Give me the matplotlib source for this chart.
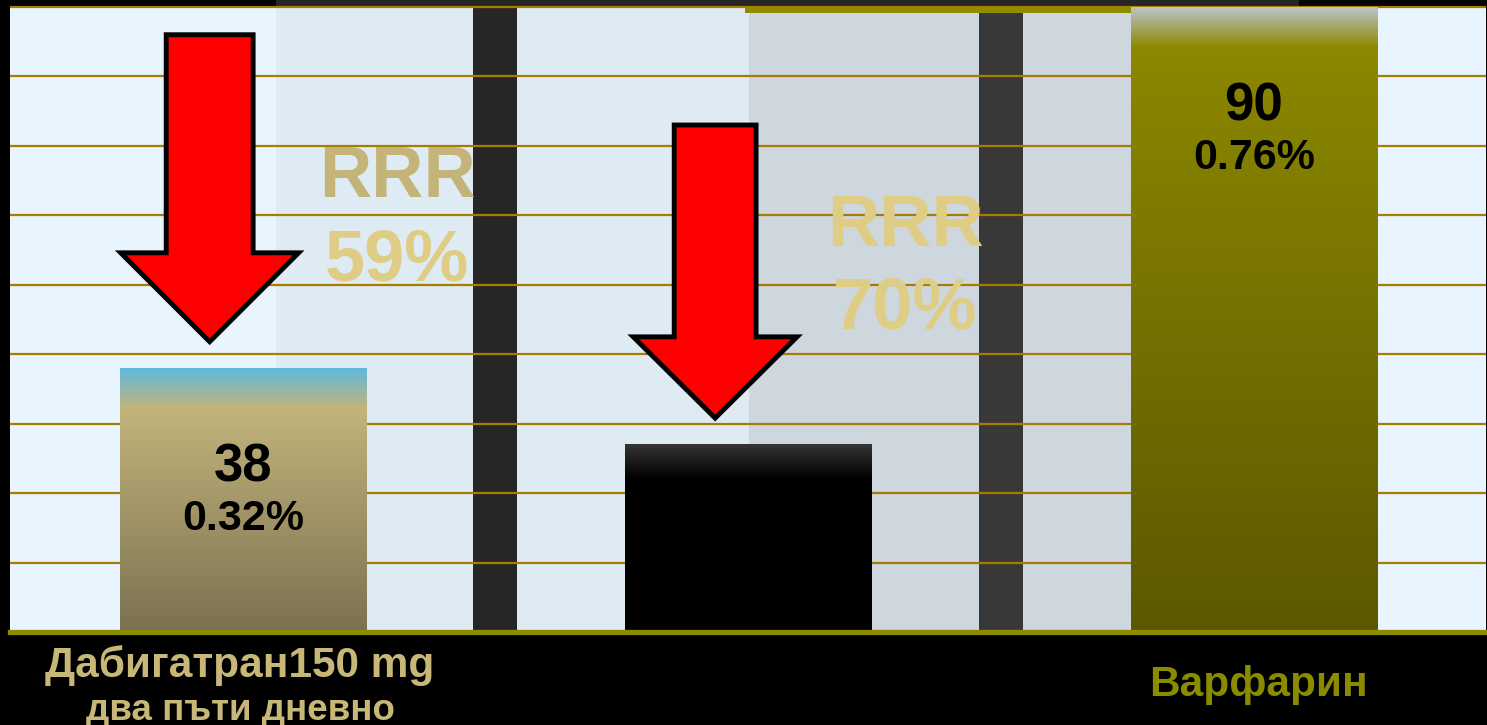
import numpy as np
import matplotlib
matplotlib.use("Agg")
import matplotlib.pyplot as plt
from matplotlib.colors import LinearSegmentedColormap
from matplotlib.patches import FancyArrow

plt.rcParams['font.family'] = ['Liberation Sans', 'DejaVu Sans']

# data
positions = [0, 1, 2]
events = [38, 27, 90]
rates = ['0.32%', '', '0.76%']
rrr_labels = ['RRR\n59%', 'RRR\n70%']
grid_levels = list(range(10, 91, 10))

# arrow / annotation placement (data units)
arrow_x = [-0.066, 0.934]
arrow_top = [86.0, 73.0]
arrow_tip = [41.8, 30.8]
arrow_shaft = [0.172, 0.162]
arrow_head_w = [0.352, 0.324]
arrow_head_len = [12.8, 11.7]
rrr_x = [0.305, 1.31]
rrr_y = [[65.4, 53.4], [58.3, 46.4]]
rrr_colors = [['#c4b47a', '#e0cd85'], ['#e0cd85', '#e0cd85']]

bar_width = 0.487
grads = [
    [(0.0, '#5fb9dc'), (0.15, '#c2b47c'), (1.0, '#7b7150')],
    [(0.0, '#353535'), (0.18, '#000000'), (1.0, '#000000')],
    [(0.0, '#bcc4c6'), (0.065, '#8c8800'), (1.0, '#5c5800')],
]

fig = plt.figure(figsize=(14.87, 7.25), dpi=100, facecolor='black')
ax = fig.add_axes([10 / 1487, 93 / 725, 1476 / 1487, 632 / 725])
ax.set_facecolor('black')

xmin, xmax = -0.461, 2.459

# back walls
ax.fill_between([xmin, xmax], 0, 90, color='#e8f5fe', lw=0, zorder=0)
ax.fill_between([0.065, 1.0], 0, 90, color='#deebf3', lw=0, zorder=0)
ax.fill_between([1.0, 2.0], 0, 90, color='#ced6de', lw=0, zorder=0)
ax.fill_between([0.455, 0.542], 0, 90, color='#262626', lw=0, zorder=0.5)
ax.fill_between([1.456, 1.543], 0, 90, color='#383838', lw=0, zorder=0.5)
ax.fill_between([0.065, 2.09], 90, 91, color='#252525', lw=0, zorder=0)
ax.fill_between([0.994, 1.757], 89.1, 90, color='#908c00', lw=0, zorder=1.5)

# grid lines
ax.hlines(grid_levels, xmin, xmax, color='#a87c00', lw=1.6, zorder=1)

# bars with gradient fill
bars = ax.bar(positions, events, width=bar_width, color='none', lw=0, zorder=3)
for rect, stops in zip(bars, grads):
    cmap = LinearSegmentedColormap.from_list('g', stops)
    x0, w, h = rect.get_x(), rect.get_width(), rect.get_height()
    grad = np.linspace(0, 1, 256).reshape(-1, 1)
    im = ax.imshow(grad, cmap=cmap, extent=(x0, x0 + w, 0, h),
                   aspect='auto', zorder=3, interpolation='bilinear')
    im.set_clip_path(rect)

# value labels
for x, v, r in zip(positions, events, rates):
    if not r:
        continue
    ax.text(x, v - 14.3, str(v), ha='center', va='center', fontsize=38,
            fontweight='bold', color='black', zorder=5)
    ax.text(x, v - 21.8, r, ha='center', va='center', fontsize=31,
            fontweight='bold', color='black', zorder=5)

# RRR labels
for x, ys, cols, lab in zip(rrr_x, rrr_y, rrr_colors, rrr_labels):
    top, bottom = lab.split('\n')
    ax.text(x, ys[0], top, ha='center', va='center', fontsize=52,
            fontweight='bold', color=cols[0], zorder=2)
    ax.text(x, ys[1], bottom, ha='center', va='center', fontsize=52,
            fontweight='bold', color=cols[1], zorder=2)

# red arrows
for x, t, tip, sw, hw, hl in zip(arrow_x, arrow_top, arrow_tip,
                                 arrow_shaft, arrow_head_w, arrow_head_len):
    arr = FancyArrow(x, t, 0, tip - t, width=sw, head_width=hw,
                     head_length=hl, length_includes_head=True,
                     facecolor='#ff0000', edgecolor='black', lw=3.5,
                     joinstyle='miter', zorder=6)
    ax.add_patch(arr)

# baseline
ax.axhline(0, color='#8b8b00', lw=3.8, zorder=4, clip_on=False)

ax.set_xlim(xmin, xmax)
ax.set_ylim(0, 91)
ax.set_xticks([])
ax.set_yticks([])
for s in ax.spines.values():
    s.set_visible(False)

# category labels
fig.text(240 / 1487, 1 - 666 / 725, 'Дабигатран150 mg', ha='center', va='center',
         fontsize=30.5, fontweight='bold', color='#c8b878')
fig.text(240 / 1487, 1 - 710 / 725, 'два пъти дневно', ha='center', va='center',
         fontsize=26.5, fontweight='bold', color='#c8b878')
fig.text(1258 / 1487, 1 - 685 / 725, 'Варфарин', ha='center', va='center',
         fontsize=30.5, fontweight='bold', color='#8b8b00')

fig.savefig('out.png', dpi=100, facecolor='black')
